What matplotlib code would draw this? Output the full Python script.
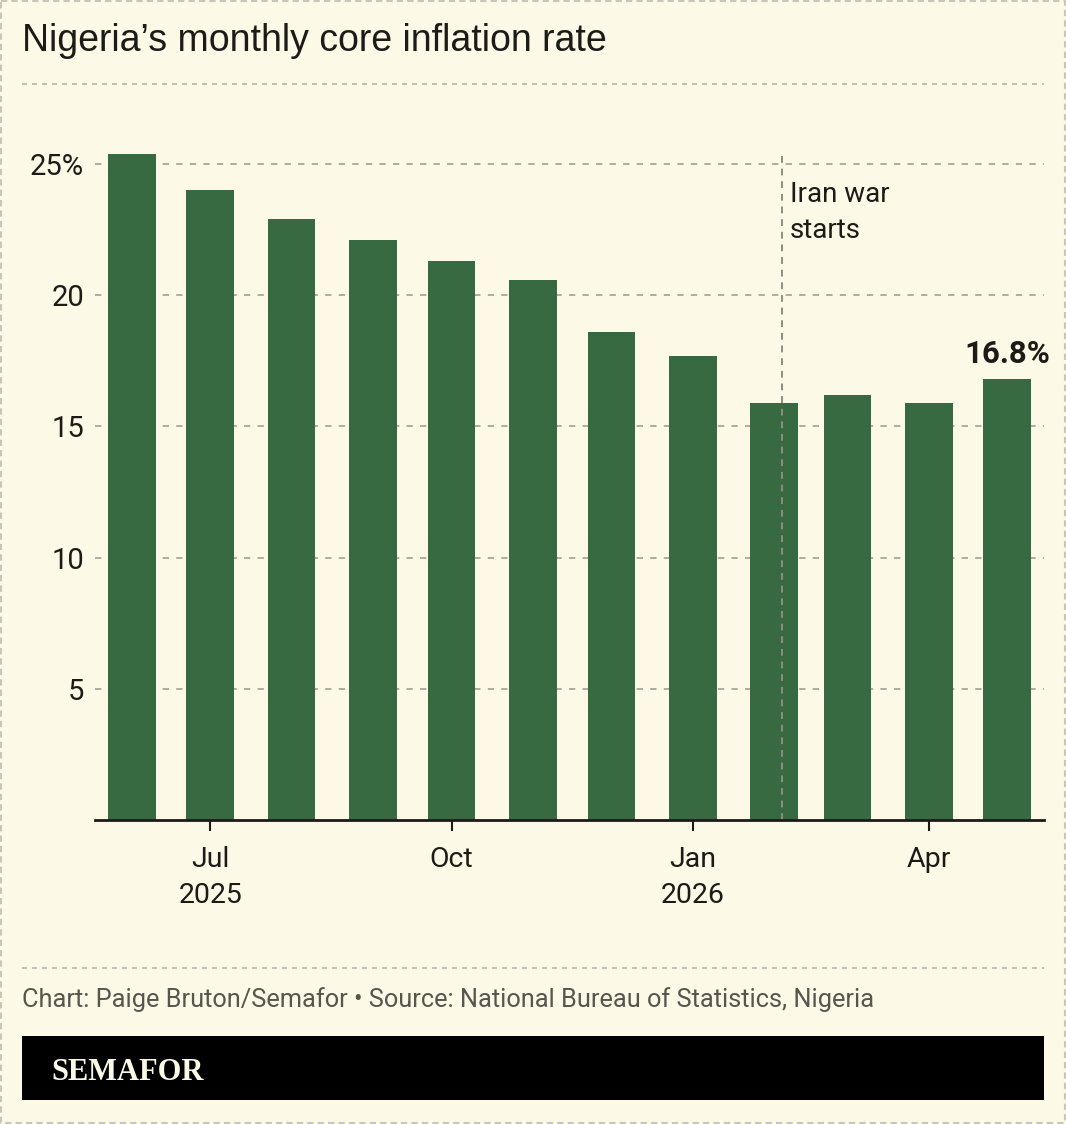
import matplotlib
matplotlib.use("Agg")
import matplotlib.pyplot as plt
import matplotlib.dates as mdates
from matplotlib.lines import Line2D
from matplotlib.patches import Rectangle
import datetime as dt

# ---- data ----
months = ["2025-06", "2025-07", "2025-08", "2025-09", "2025-10", "2025-11",
          "2025-12", "2026-01", "2026-02", "2026-03", "2026-04", "2026-05"]
core_inflation = [25.4, 24.0, 22.9, 22.1, 21.3, 20.6, 18.6, 17.7, 15.9, 16.2, 15.9, 16.8]
y_ticks = [5, 10, 15, 20, 25]
y_tick_labels = ["5", "10", "15", "20", "25%"]
x_tick_dates = ["2025-07-01", "2025-10-01", "2026-01-01", "2026-04-01"]
x_tick_labels = ["Jul\n2025", "Oct", "Jan\n2026", "Apr"]
event_date = "2026-02-04"
event_label = "Iran war\nstarts"
last_label = "16.8%"

BG = "#fcf9e7"
GREEN = "#376a41"
DARK = "#1c1b17"

dates = [dt.datetime.strptime(m + "-01", "%Y-%m-%d") for m in months]
xnum = mdates.date2num(dates)

W, H = 1066, 1124
fig = plt.figure(figsize=(W / 100, H / 100), dpi=100, facecolor=BG)

def fx(px):
    return px / W

def fy(py):
    return 1 - py / H

ax = fig.add_axes([fx(95), fy(820), fx(1044) - fx(95), fy(152) - fy(820)])
ax.set_facecolor(BG)

ax.bar(xnum, core_inflation, width=18.2, color=GREEN, zorder=2)

ax.set_xlim(mdates.date2num(dt.datetime(2025, 5, 18)), mdates.date2num(dt.datetime(2026, 5, 15)))
ax.set_ylim(0, 25.46)

ax.set_yticks(y_ticks)
ax.set_yticklabels(y_tick_labels)
ax.yaxis.grid(True, color="#aaa79a", linestyle=(0, (3.5, 4)), linewidth=1.3, zorder=0)
ax.tick_params(axis="y", length=0, pad=8, labelsize=21, labelcolor=DARK)
for lab in ax.get_yticklabels():
    lab.set_fontfamily("Roboto")

ax.set_xticks(mdates.date2num([dt.datetime.strptime(d, "%Y-%m-%d") for d in x_tick_dates]))
ax.set_xticklabels(x_tick_labels, linespacing=1.42)
ax.tick_params(axis="x", length=8, width=1.5, color=DARK, pad=11, labelsize=20.5, labelcolor=DARK)
for lab in ax.get_xticklabels():
    lab.set_fontfamily("Roboto")

for s in ["top", "right", "left"]:
    ax.spines[s].set_visible(False)
ax.spines["bottom"].set_color(DARK)
ax.spines["bottom"].set_linewidth(2)
ax.spines["bottom"].set_zorder(4)

ex = mdates.date2num(dt.datetime.strptime(event_date, "%Y-%m-%d"))
ax.axvline(ex, color="#8f8c82", linestyle=(0, (3.5, 3)), linewidth=1.4, zorder=3)
ax.text(ex + 3.2, 24.35, event_label, ha="left", va="top", fontsize=20,
        color=DARK, family="Roboto", linespacing=1.42)

ax.text(xnum[-1], core_inflation[-1] + 0.38, last_label, ha="center", va="bottom",
        fontsize=22.5, fontweight="bold", color=DARK, family="Roboto")

# ---- title, separators, footer ----
fig.text(fx(22), fy(51), "Nigeria\u2019s monthly core inflation rate", ha="left", va="baseline",
         fontsize=27, color=DARK, family="Liberation Sans")

sep_style = dict(color="#b9b6aa", linestyle=(0, (3, 3)), linewidth=1.2)
fig.add_artist(Line2D([fx(22), fx(1044)], [fy(84), fy(84)], transform=fig.transFigure, **sep_style))
fig.add_artist(Line2D([fx(22), fx(1044)], [fy(968), fy(968)], transform=fig.transFigure, **sep_style))

fig.text(fx(22), fy(1007), "Chart: Paige Bruton/Semafor \u2022 Source: National Bureau of Statistics, Nigeria",
         ha="left", va="baseline", fontsize=18.3, color="#57554e", family="Roboto")

fig.add_artist(Rectangle((fx(22), fy(1100)), fx(1044) - fx(22), fy(1036) - fy(1100),
                         transform=fig.transFigure, facecolor="black", edgecolor="none"))
fig.text(fx(51), fy(1080), "SEMAFOR", ha="left", va="baseline", fontsize=22,
         fontweight="bold", color="#fcf9e7", family="Liberation Serif")

# outer dashed border
border = dict(color="#c8c5b9", linestyle=(0, (3, 2)), linewidth=1.5, transform=fig.transFigure)
fig.add_artist(Line2D([fx(1), fx(1065), fx(1065), fx(1), fx(1)],
                      [fy(1), fy(1), fy(1123), fy(1123), fy(1)], **border))

fig.savefig("out.png", dpi=100, facecolor=BG)
